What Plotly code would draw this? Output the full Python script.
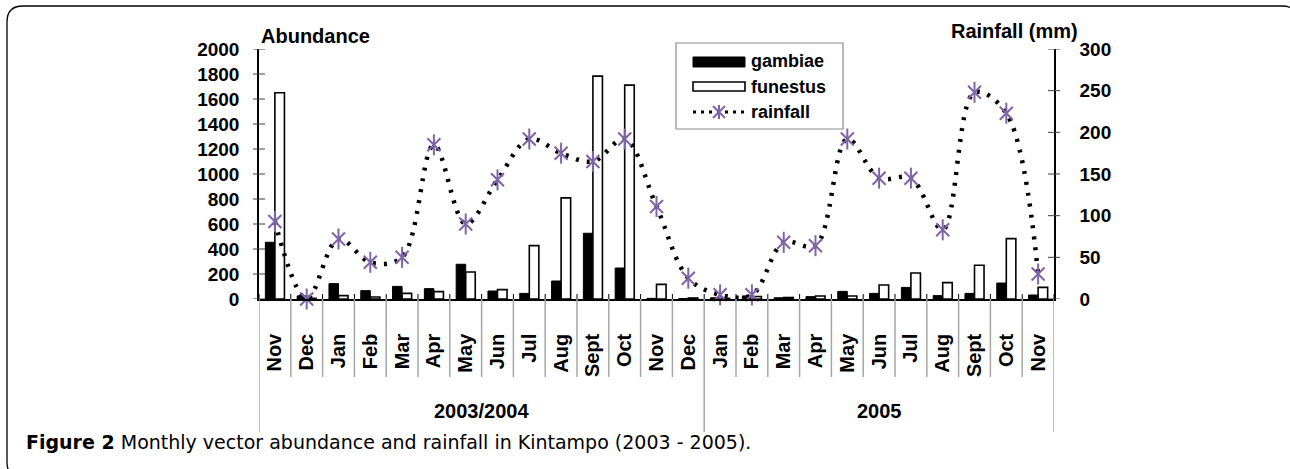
import plotly.graph_objects as go

months = ["Nov", "Dec", "Jan", "Feb", "Mar", "Apr", "May", "Jun", "Jul", "Aug", "Sept", "Oct",
          "Nov", "Dec", "Jan", "Feb", "Mar", "Apr", "May", "Jun", "Jul", "Aug", "Sept", "Oct", "Nov"]
groups = [("2003/2004", 14), ("2005", 11)]
gambiae = [454, 25, 123, 67, 101, 83, 278, 64, 45, 144, 526, 248,
           5, 4, 10, 25, 10, 19, 61, 45, 93, 27, 45, 128, 32]
funestus = [1650, 5, 27, 16, 45, 59, 216, 75, 427, 809, 1783, 1711,
            117, 8, 5, 20, 12, 24, 24, 112, 208, 131, 270, 483, 93]
rainfall = [93, 0, 72, 44, 50, 185, 90, 143, 192, 175, 165, 192,
            111, 25, 5, 5, 68, 64, 192, 145, 145, 83, 248, 223, 30]
left_ticks = list(range(0, 2001, 200))
right_ticks = list(range(0, 301, 50))

W, H = 1290, 469
L, R, T, B = 259, 1054, 49, 299
FONT = "Liberation Sans, Arial, sans-serif"
PURPLE = "#7E64A8"

def px(x):
    return (x - L) / (R - L)

def py(y):
    return (B - y) / (B - T)

xs = list(range(len(months)))

fig = go.Figure()
fig.add_trace(go.Bar(x=xs, y=gambiae, name="gambiae", marker=dict(color="black", line=dict(color="black", width=1)),
                     showlegend=False))
fig.add_trace(go.Bar(x=xs, y=funestus, name="funestus", marker=dict(color="white", line=dict(color="black", width=1.6)),
                     showlegend=False))
fig.add_trace(go.Scatter(x=xs, y=rainfall, yaxis="y2", mode="lines", name="rainfall",
                         line=dict(color="black", width=4.5, dash="3px,8px", shape="spline", smoothing=1),
                         showlegend=False, cliponaxis=False))
fig.add_trace(go.Scatter(x=xs, y=rainfall, yaxis="y2", mode="markers", showlegend=False, cliponaxis=False,
                         marker=dict(symbol="x-thin-open", size=13, color=PURPLE, line=dict(color=PURPLE, width=2))))
fig.add_trace(go.Scatter(x=xs, y=rainfall, yaxis="y2", mode="markers", showlegend=False, cliponaxis=False,
                         marker=dict(symbol="line-ns-open", size=15, color=PURPLE, line=dict(color=PURPLE, width=2))))

shapes = []
annotations = []
n = len(months)
bounds_group = [0]
acc = 0
for g, cnt in groups:
    acc += cnt
    bounds_group.append(acc)
for b in range(n + 1):
    xb = b - 0.5
    shapes.append(dict(type="line", xref="x", yref="paper", x0=xb, x1=xb, y0=0, y1=py(B - 5),
                       line=dict(color="black", width=1)))
    bottom = 432 if b in bounds_group else 377
    shapes.append(dict(type="line", xref="x", yref="paper", x0=xb, x1=xb, y0=0, y1=py(bottom),
                       line=dict(color="#a6a6a6", width=1.5)))
for v in left_ticks:
    shapes.append(dict(type="line", xref="paper", yref="y", x0=px(L - 6), x1=px(L + 6), y0=v, y1=v,
                       line=dict(color="#404040", width=1)))
for v in right_ticks:
    shapes.append(dict(type="line", xref="paper", yref="y2", x0=px(R - 6), x1=px(R + 6), y0=v, y1=v,
                       line=dict(color="#404040", width=1)))

start = -0.5
for g, cnt in groups:
    annotations.append(dict(text=g, x=start + cnt / 2, xref="x", y=py(411), yref="paper", showarrow=False,
                            xanchor="center", yanchor="middle",
                            font=dict(family=FONT, size=20, color="black", weight="bold")))
    start += cnt

annotations.append(dict(text="Abundance", x=px(259), y=py(36), xref="paper", yref="paper", showarrow=False,
                        xanchor="left", yanchor="middle", font=dict(family=FONT, size=20, color="black", weight="bold")))
annotations.append(dict(text="Rainfall (mm)", x=px(1080), y=py(31), xref="paper", yref="paper", showarrow=False,
                        xanchor="right", yanchor="middle", font=dict(family=FONT, size=20, color="black", weight="bold")))

# legend
shapes.append(dict(type="rect", xref="paper", yref="paper", x0=px(676), x1=px(843), y0=py(43), y1=py(129),
                   line=dict(color="#8c8c8c", width=1.2), fillcolor="white"))
shapes.append(dict(type="rect", xref="paper", yref="paper", x0=px(693), x1=px(745), y0=py(57), y1=py(67),
                   line=dict(color="black", width=1), fillcolor="black"))
shapes.append(dict(type="rect", xref="paper", yref="paper", x0=px(693), x1=px(745), y0=py(82), y1=py(91),
                   line=dict(color="black", width=1.6), fillcolor="white"))
shapes.append(dict(type="line", xref="paper", yref="paper", x0=px(693), x1=px(746), y0=py(112), y1=py(112),
                   line=dict(color="black", width=3, dash="3px,5px")))
cx, cy, s = 719, 112, 6
shapes.append(dict(type="line", xref="paper", yref="paper", x0=px(cx - s), x1=px(cx + s), y0=py(cy - s), y1=py(cy + s),
                   line=dict(color=PURPLE, width=2)))
shapes.append(dict(type="line", xref="paper", yref="paper", x0=px(cx - s), x1=px(cx + s), y0=py(cy + s), y1=py(cy - s),
                   line=dict(color=PURPLE, width=2)))
shapes.append(dict(type="line", xref="paper", yref="paper", x0=px(cx), x1=px(cx), y0=py(cy - s - 1), y1=py(cy + s + 1),
                   line=dict(color=PURPLE, width=2)))
for name, yy in [("gambiae", 61), ("funestus", 87), ("rainfall", 112)]:
    annotations.append(dict(text=name, x=px(749), y=py(yy), xref="paper", yref="paper", showarrow=False,
                            xanchor="left", yanchor="middle",
                            font=dict(family=FONT, size=18, color="black", weight="bold")))

annotations.append(dict(text="<b>Figure 2</b> Monthly vector abundance and rainfall in Kintampo (2003 - 2005).",
                        x=px(24), y=py(442), xref="paper", yref="paper", showarrow=False,
                        xanchor="left", yanchor="middle",
                        font=dict(family="DejaVu Sans, sans-serif", size=19, color="black")))

x0f, y0f, x1f, y1f, r = 7, 6, 1298, 478, 16
path = (f"M {px(x0f)},{py(y1f - r)} L {px(x0f)},{py(y0f + r)} Q {px(x0f)},{py(y0f)} {px(x0f + r)},{py(y0f)} "
        f"L {px(x1f - r)},{py(y0f)} Q {px(x1f)},{py(y0f)} {px(x1f)},{py(y0f + r)} "
        f"L {px(x1f)},{py(y1f - r)} Q {px(x1f)},{py(y1f)} {px(x1f - r)},{py(y1f)} "
        f"L {px(x0f + r)},{py(y1f)} Q {px(x0f)},{py(y1f)} {px(x0f)},{py(y1f - r)} Z")
shapes.append(dict(type="path", xref="paper", yref="paper", path=path, line=dict(color="black", width=1.3)))

fig.update_layout(
    width=W, height=H,
    margin=dict(l=L, r=W - R, t=T, b=H - B, autoexpand=False),
    paper_bgcolor="white", plot_bgcolor="white",
    barmode="group", bargap=0.4, bargroupgap=0,
    xaxis=dict(range=[-0.5, n - 0.5], tickmode="array", tickvals=xs, ticktext=months, tickangle=-90,
               ticks="", showgrid=False, zeroline=False, showline=True, linecolor="black", linewidth=1.5,
               ticklabelstandoff=25,
               tickfont=dict(family=FONT, size=20, color="black", weight="bold")),
    yaxis=dict(range=[0, 2000], tickmode="array", tickvals=left_ticks, ticks="", showgrid=False, zeroline=False,
               showline=True, linecolor="black", linewidth=1.5, ticklabelstandoff=14,
               tickfont=dict(family=FONT, size=19, color="black", weight="bold")),
    yaxis2=dict(range=[0, 300], tickmode="array", tickvals=right_ticks, overlaying="y", side="right", ticks="",
                showgrid=False, zeroline=False, showline=True, linecolor="black", linewidth=1.5,
                ticklabelstandoff=20,
                tickfont=dict(family=FONT, size=19, color="black", weight="bold")),
    shapes=shapes, annotations=annotations, showlegend=False,
)

fig.write_html("out.html", config={"displayModeBar": False},
               post_script="document.body.style.margin='0';document.body.style.overflow='hidden';")
